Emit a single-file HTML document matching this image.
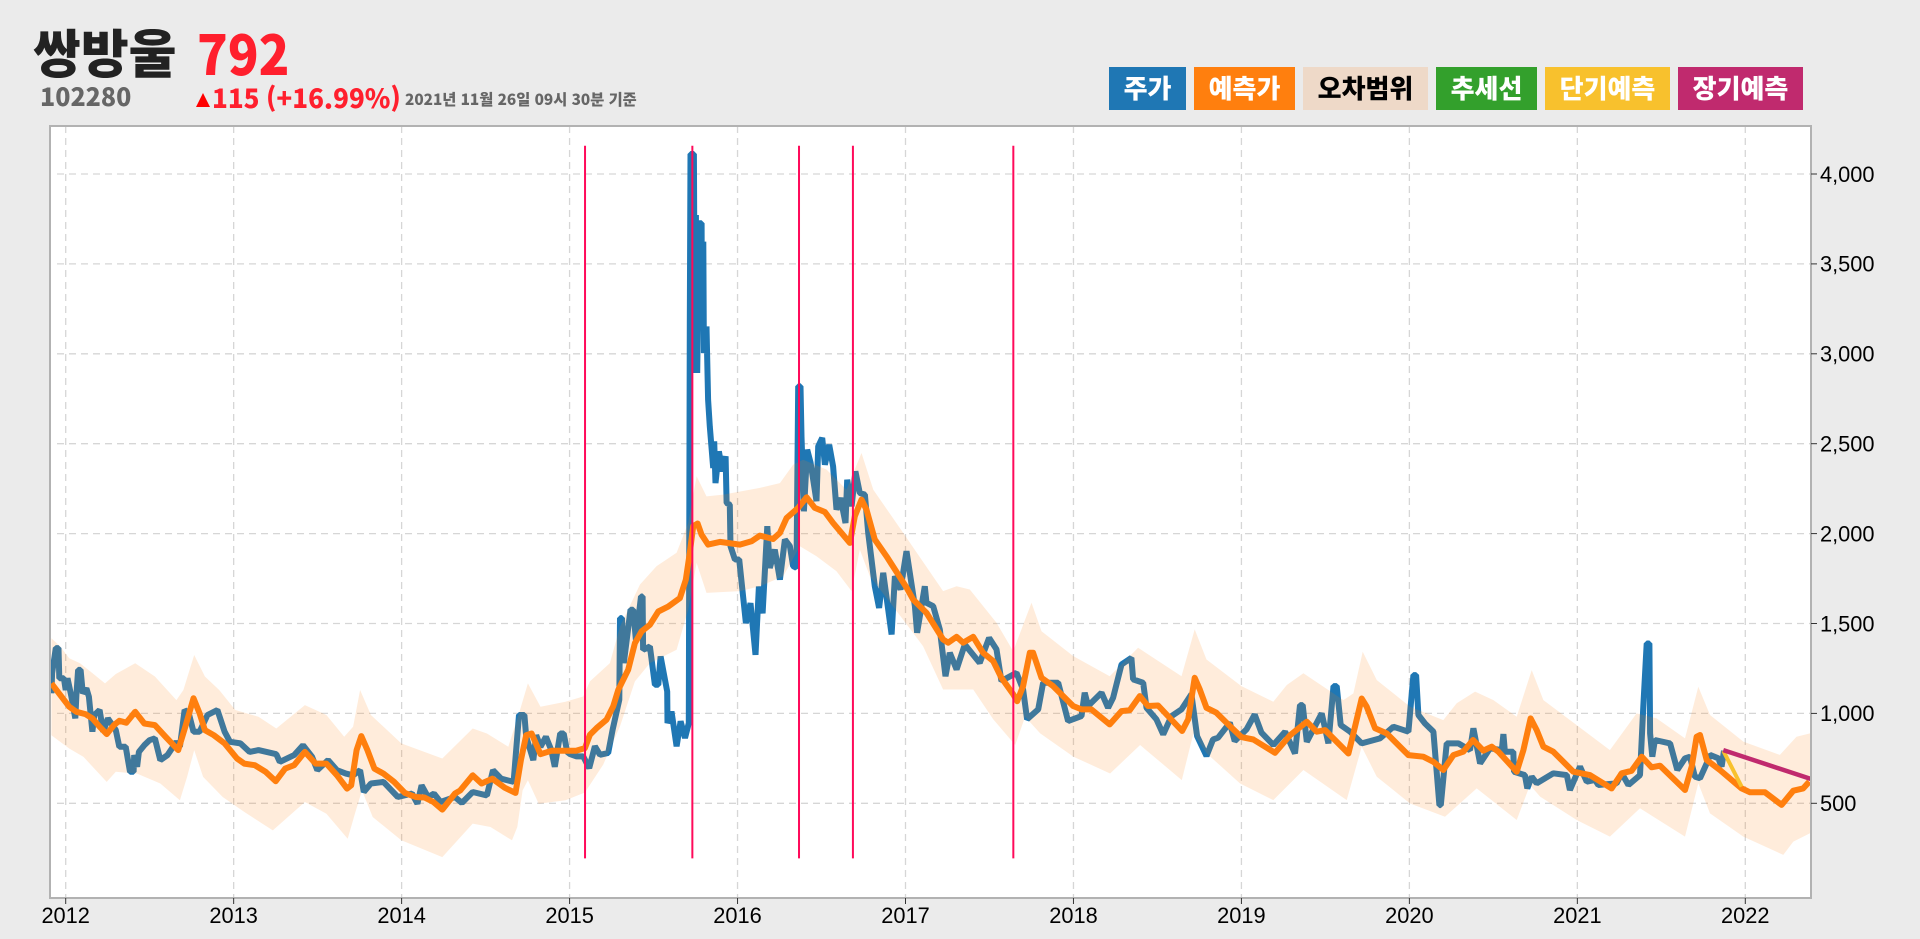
<!DOCTYPE html>
<html lang="ko">
<head>
<meta charset="utf-8">
<title>쌍방울 102280 주가 예측 차트</title>
<style>
html,body{margin:0;padding:0;background:#ebebeb;}
body{width:1920px;height:939px;position:relative;overflow:hidden;font-family:"Liberation Sans","Noto Sans CJK KR",sans-serif;}
.t{position:absolute;white-space:nowrap;font-family:"Noto Sans CJK KR","Liberation Sans",sans-serif;font-weight:900;line-height:1;transform-origin:left top;}
.chip{position:absolute;top:67px;height:43px;line-height:42px;text-align:center;font-family:"Noto Sans CJK KR","Liberation Sans",sans-serif;font-weight:900;font-size:26px;color:#fff;}
svg{position:absolute;left:0;top:0;}
</style>
</head>
<body>
<div class="t" style="left:33px;top:25px;font-size:52px;color:#222;">쌍방울</div>
<div class="t" style="left:197px;top:24px;font-size:55px;color:#ff1f2d;transform:scaleX(.92);">792</div>
<div class="t" style="left:40px;top:84px;font-size:25px;color:#666;">102280</div>
<div class="t" style="left:196px;top:93px;width:0;height:0;border-left:7.5px solid transparent;border-right:7.5px solid transparent;border-bottom:14px solid #f00;"></div>
<div class="t" style="left:212px;top:85px;font-size:26px;color:#ff1f2d;">115</div>
<div class="t" style="left:266px;top:85px;font-size:26px;color:#ff1f2d;">(+16.99%)</div>
<div class="t" style="left:405px;top:92px;font-size:15.3px;color:#666;">2021년 11월 26일 09시 30분 기준</div>

<div class="chip" style="left:1109px;width:77px;background:#1f77b4;">주가</div>
<div class="chip" style="left:1194px;width:101px;background:#ff7f0e;">예측가</div>
<div class="chip" style="left:1303px;width:125px;background:#eed9c8;color:#000;">오차범위</div>
<div class="chip" style="left:1436px;width:101px;background:#33a02c;">추세선</div>
<div class="chip" style="left:1545px;width:125px;background:#f8c12d;">단기예측</div>
<div class="chip" style="left:1678px;width:125px;background:#c02a6e;">장기예측</div>

<svg id="chart" width="1920" height="939" viewBox="0 0 1920 939" xmlns="http://www.w3.org/2000/svg"></svg>

<script>
const xTickYears = [2012,2013,2014,2015,2016,2017,2018,2019,2020,2021,2022];
const xTickLabels = ["2012","2013","2014","2015","2016","2017","2018","2019","2020","2021","2022"];
const yTickValues = [500,1000,1500,2000,2500,3000,3500,4000];
const yTickLabels = ["500","1,000","1,500","2,000","2,500","3,000","3,500","4,000"];
const eventDates = [2015.092,2015.731,2016.366,2016.687,2017.642];
const eventRange = [194,4157];

const priceDates = [
2011.915,2011.919,2011.941,2011.957,2011.962,2011.989,2012.000,2012.011,2012.032,2012.057,2012.064,2012.074,2012.089,2012.102,2012.123,2012.138,2012.159,2012.170,2012.202,2012.223,
2012.251,2012.298,2012.319,2012.357,2012.383,2012.404,2012.408,2012.425,2012.436,2012.468,2012.499,2012.531,2012.563,2012.606,2012.659,2012.680,2012.708,2012.733,2012.761,2012.797,
2012.844,2012.903,2012.946,2012.978,2013.041,2013.095,2013.148,2013.254,2013.275,2013.360,2013.413,2013.467,2013.498,2013.562,2013.615,2013.668,2013.711,2013.753,2013.775,2013.817,
2013.892,2013.977,2014.062,2014.094,2014.119,2014.157,2014.193,2014.232,2014.317,2014.359,2014.423,2014.508,2014.544,2014.593,2014.667,2014.699,2014.731,2014.742,2014.784,2014.801,
2014.827,2014.859,2014.891,2014.912,2014.944,2014.965,2014.986,2015.002,2015.042,2015.081,2015.117,2015.151,2015.181,2015.230,2015.256,2015.296,2015.300,2015.312,2015.323,2015.363,
2015.379,2015.395,2015.425,2015.435,2015.438,2015.478,2015.508,2015.528,2015.542,2015.581,2015.583,2015.607,2015.637,2015.661,2015.687,2015.710,2015.716,2015.720,2015.740,2015.746,
2015.752,2015.760,2015.772,2015.786,2015.788,2015.796,2015.800,2015.815,2015.825,2015.835,2015.855,2015.861,2015.869,2015.889,2015.909,2015.929,2015.935,2015.954,2015.958,2015.984,
2016.010,2016.050,2016.077,2016.107,2016.127,2016.149,2016.177,2016.192,2016.222,2016.252,2016.282,2016.312,2016.331,2016.351,2016.361,2016.375,2016.381,2016.395,2016.415,2016.435,
2016.470,2016.480,2016.504,2016.520,2016.546,2016.569,2016.589,2016.613,2016.643,2016.653,2016.679,2016.702,2016.728,2016.758,2016.778,2016.817,2016.843,2016.867,2016.917,2016.937,
2016.970,2017.006,2017.056,2017.069,2017.115,2017.125,2017.165,2017.204,2017.238,2017.264,2017.304,2017.353,2017.442,2017.498,2017.542,2017.571,2017.661,2017.700,2017.724,2017.790,
2017.819,2017.909,2017.968,2018.048,2018.067,2018.087,2018.167,2018.206,2018.236,2018.286,2018.345,2018.355,2018.415,2018.435,2018.494,2018.534,2018.584,2018.643,2018.702,2018.736,
2018.792,2018.831,2018.861,2018.931,2018.960,2019.030,2019.079,2019.119,2019.190,2019.260,2019.319,2019.349,2019.365,2019.389,2019.478,2019.518,2019.548,2019.567,2019.591,2019.647,
2019.716,2019.825,2019.905,2019.994,2020.024,2020.040,2020.054,2020.093,2020.143,2020.179,2020.187,2020.222,2020.292,2020.361,2020.381,2020.421,2020.480,2020.550,2020.560,2020.569,
2020.619,2020.623,2020.688,2020.702,2020.728,2020.758,2020.857,2020.937,2020.956,2021.016,2021.056,2021.105,2021.125,2021.234,2021.264,2021.304,2021.373,2021.393,2021.413,2021.429,
2021.433,2021.446,2021.462,2021.552,2021.595,2021.641,2021.671,2021.700,2021.730,2021.770,2021.790,2021.839,2021.859,2021.873
];
const priceValues = [
1112,1223,1363,1363,1195,1195,1130,1195,1102,972,1102,1242,1242,1112,1139,1093,898,991,1019,898,
972,907,814,814,675,675,768,703,786,823,851,861,740,768,842,814,1019,1000,898,898,
991,1019,898,842,833,786,796,773,730,768,823,758,684,740,684,665,656,684,563,610,
619,535,554,498,600,535,554,507,535,502,563,544,684,637,619,991,991,870,740,879,
814,870,796,703,888,888,786,774,761,761,696,817,770,780,909,1076,1530,1530,1280,1576,
1576,1409,1650,1650,1354,1372,1159,1159,1317,1122,946,1011,817,956,863,946,3170,4111,4111,2893,
3772,2893,3726,3726,3226,3624,3004,3152,2744,2596,2365,2513,2281,2457,2346,2430,2170,2161,1930,1856,
1856,1502,1613,1326,1706,1557,2041,1809,1911,1744,1967,1930,1819,1809,2819,2819,2541,2124,2467,2393,
2180,2485,2532,2383,2494,2374,2133,2198,2059,2300,2152,2346,2226,2217,2004,1707,1587,1782,1439,1763,
1689,1902,1596,1448,1707,1615,1596,1467,1207,1337,1244,1383,1281,1420,1356,1180,1226,1133,967,1022,
1170,1170,957,985,1115,1041,1115,1031,1087,1272,1309,1189,1170,1031,967,883,985,1022,1106,874,
763,855,865,948,846,911,994,893,824,898,777,1046,1046,842,1000,833,1152,1152,935,898,
833,861,926,898,1213,1213,991,944,898,490,490,833,833,796,917,722,806,796,885,787,
787,676,657,583,648,611,667,657,574,704,620,630,602,611,667,602,657,1037,1389,1389,
889,759,852,833,685,750,759,648,639,722,769,750,704,792
];

const forecastDates = [
2011.915,2011.968,2012.021,2012.064,2012.117,2012.159,2012.202,2012.244,2012.287,2012.319,2012.361,2012.414,2012.468,2012.531,2012.595,2012.670,2012.712,2012.761,2012.797,2012.829,
2012.882,2012.946,2013.020,2013.063,2013.126,2013.190,2013.250,2013.307,2013.360,2013.424,2013.488,2013.552,2013.615,2013.675,2013.700,2013.732,2013.760,2013.796,2013.838,2013.892,
2013.955,2014.019,2014.083,2014.136,2014.189,2014.242,2014.317,2014.349,2014.423,2014.476,2014.540,2014.614,2014.678,2014.710,2014.742,2014.774,2014.827,2014.891,2014.976,2015.039,
2015.091,2015.121,2015.161,2015.220,2015.260,2015.290,2015.349,2015.389,2015.429,2015.478,2015.528,2015.587,2015.657,2015.692,2015.716,2015.736,2015.762,2015.786,2015.825,2015.895,
2016.014,2016.083,2016.133,2016.212,2016.252,2016.292,2016.361,2016.411,2016.460,2016.520,2016.569,2016.669,2016.698,2016.738,2016.768,2016.817,2016.887,2017.006,2017.046,2017.125,
2017.224,2017.254,2017.304,2017.343,2017.403,2017.462,2017.522,2017.571,2017.641,2017.665,2017.700,2017.740,2017.760,2017.810,2017.879,2017.998,2018.048,2018.107,2018.216,2018.286,
2018.335,2018.395,2018.444,2018.504,2018.647,2018.683,2018.722,2018.752,2018.792,2018.851,2018.931,2019.000,2019.071,2019.200,2019.290,2019.389,2019.448,2019.498,2019.637,2019.667,
2019.716,2019.746,2019.796,2019.865,2019.994,2020.083,2020.143,2020.202,2020.262,2020.321,2020.379,2020.440,2020.490,2020.530,2020.639,2020.679,2020.722,2020.758,2020.798,2020.857,
2020.976,2021.075,2021.204,2021.264,2021.323,2021.383,2021.442,2021.492,2021.641,2021.681,2021.710,2021.730,2021.770,2021.849,2021.978,2022.028,2022.117,2022.216,2022.286,2022.345,2022.381
];
const forecastValues = [
1167,1102,1037,1009,996,972,926,885,935,959,948,1009,944,935,870,796,926,1084,1000,907,
879,833,749,721,712,675,623,693,712,786,721,721,656,582,600,796,874,796,693,665,
619,558,535,532,507,465,554,572,656,610,637,587,558,740,879,888,773,792,792,792,
807,881,918,965,1039,1131,1243,1391,1456,1493,1567,1594,1641,1743,1893,2041,2056,1994,1939,1954,
1939,1957,1989,1970,2004,2087,2143,2202,2143,2120,2059,1948,2096,2189,2133,1967,1874,1700,1633,1559,
1411,1393,1426,1393,1426,1337,1291,1198,1106,1068,1152,1337,1337,1198,1152,1041,1022,1022,939,1013,
1018,1096,1041,1044,902,967,1198,1133,1031,1004,930,868,855,781,879,954,898,907,777,889,
1083,1037,917,889,768,759,731,685,768,787,852,793,815,787,676,796,972,907,815,787,
676,657,583,667,681,759,700,709,574,704,870,880,741,685,583,561,561,491,570,583,620
];

const upperDates = [
2011.915,2011.968,2012.021,2012.085,2012.149,2012.234,2012.298,2012.414,2012.531,2012.659,2012.701,2012.765,2012.829,2012.914,2013.010,2013.148,2013.254,2013.424,2013.552,2013.658,
2013.711,2013.753,2013.817,2013.998,2014.242,2014.423,2014.508,2014.635,2014.699,2014.752,2014.827,2014.976,2015.081,2015.121,2015.240,2015.300,2015.419,2015.518,2015.637,2015.706,
2015.756,2015.815,2015.915,2016.133,2016.252,2016.331,2016.391,2016.530,2016.649,2016.738,2016.808,2017.000,2017.224,2017.304,2017.383,2017.542,2017.641,2017.750,2017.810,2017.998,
2018.216,2018.385,2018.643,2018.722,2018.792,2019.000,2019.190,2019.270,2019.369,2019.607,2019.667,2019.722,2019.806,2020.004,2020.202,2020.282,2020.391,2020.500,2020.639,2020.728,
2020.798,2020.996,2021.194,2021.353,2021.472,2021.641,2021.720,2021.790,2021.988,2022.206,2022.305,2022.385
];
const upperValues = [
1418,1372,1307,1279,1232,1167,1219,1279,1205,1074,1130,1325,1205,1130,1019,981,916,1046,991,870,
926,1130,991,833,749,916,888,814,1000,1167,1037,1065,1094,1178,1280,1483,1717,1819,1893,2059,
2319,2207,2217,2254,2281,2383,2411,2356,2244,2448,2244,1985,1680,1707,1689,1504,1346,1615,1457,1319,
1207,1365,1207,1467,1300,1152,1065,1158,1223,1074,1111,1343,1185,1037,963,1056,1121,1074,981,1241,
1074,935,796,1000,972,861,1148,991,843,769,870,889
];

const lowerDates = [
2011.915,2012.021,2012.106,2012.244,2012.298,2012.425,2012.563,2012.680,2012.723,2012.765,2012.818,2012.935,2013.063,2013.233,2013.424,2013.552,2013.679,2013.722,2013.764,2013.828,
2013.998,2014.242,2014.423,2014.529,2014.657,2014.689,2014.720,2014.752,2014.816,2014.976,2015.091,2015.200,2015.300,2015.389,2015.478,2015.637,2015.706,2015.756,2015.815,2016.014,
2016.133,2016.272,2016.371,2016.470,2016.589,2016.679,2016.728,2016.788,2017.000,2017.105,2017.224,2017.403,2017.522,2017.653,2017.712,2017.802,2018.000,2018.218,2018.397,2018.645,
2018.714,2018.794,2018.992,2019.190,2019.369,2019.627,2019.716,2019.806,2020.004,2020.212,2020.401,2020.639,2020.718,2020.778,2020.996,2021.194,2021.373,2021.641,2021.720,2021.790,
2021.988,2022.226,2022.286,2022.385
];
const lowerValues = [
879,805,758,619,675,665,610,517,647,796,647,535,452,349,507,442,303,442,572,424,
294,201,387,368,294,368,572,628,498,517,560,715,928,1178,1280,1354,1576,1837,1670,1680,
1707,1763,1930,1874,1791,1680,1911,1763,1504,1374,1133,1133,967,824,981,889,759,666,824,629,
889,777,610,518,685,518,814,648,499,425,583,407,602,537,407,315,472,315,611,444,
315,213,287,333
];

const shortTermDates = [2021.869,2021.978];
const shortTermValues = [792,593];
const longTermDates = [2021.869,2022.391];
const longTermValues = [796,635];

const plotLeft = 50, plotRight = 1811, plotTop = 126, plotBottom = 898;
const SVG_NS = 'http://www.w3.org/2000/svg';
const chart = document.getElementById('chart');

function xAxis(year) { return 65.7 + (year - 2012) * 167.96; }
function yAxis(value) { return 803.3 - (value - 500) * 0.1798; }
function pointList(dates, values) {
  return dates.map(function (d, i) { return xAxis(d).toFixed(1) + ',' + yAxis(values[i]).toFixed(1); });
}
function make(tag, attrs, parent) {
  const el = document.createElementNS(SVG_NS, tag);
  for (const k in attrs) el.setAttribute(k, attrs[k]);
  parent.appendChild(el);
  return el;
}

const background = make('rect', {x: plotLeft, y: plotTop, width: plotRight - plotLeft, height: plotBottom - plotTop, fill: '#fff'}, chart);



const defs = make('defs', {}, chart);
const clip = make('clipPath', {id: 'plot-clip'}, defs);
make('rect', {x: plotLeft, y: plotTop, width: plotRight - plotLeft, height: plotBottom - plotTop}, clip);

const gridColor = '#d6d6d6';
xTickYears.forEach(function (year) {
  const line = make('line', {x1: xAxis(year), x2: xAxis(year), y1: plotTop, y2: plotBottom, stroke: gridColor, 'stroke-width': 1.3, 'stroke-dasharray': '7 5'}, chart);
  
  
});
yTickValues.forEach(function (value) {
  const line = make('line', {x1: plotLeft + 7, x2: plotRight, y1: yAxis(value), y2: yAxis(value), stroke: gridColor, 'stroke-width': 1.3, 'stroke-dasharray': '7 5'}, chart);
  
  
});

const plot = make('g', {'clip-path': 'url(#plot-clip)'}, chart);



const priceLine = make('polyline', {points: pointList(priceDates, priceValues).join(' '), fill: 'none', stroke: '#1f77b4', 'stroke-width': 6, 'stroke-linejoin': 'bevel'}, plot);



const bandPoints = pointList(upperDates, upperValues).concat(pointList(lowerDates, lowerValues).reverse());
const band = make('polygon', {points: bandPoints.join(' '), fill: '#ff7f0e', 'fill-opacity': 0.15}, plot);



const forecastLine = make('polyline', {points: pointList(forecastDates, forecastValues).join(' '), fill: 'none', stroke: '#ff7f0e', 'stroke-width': 6, 'stroke-linejoin': 'round'}, plot);



const shortTermLine = make('polyline', {points: pointList(shortTermDates, shortTermValues).join(' '), fill: 'none', stroke: '#f8c12d', 'stroke-width': 4}, plot);



const longTermLine = make('polyline', {points: pointList(longTermDates, longTermValues).join(' '), fill: 'none', stroke: '#c02a6e', 'stroke-width': 4.5}, plot);



eventDates.forEach(function (date) {
  const line = make('line', {x1: xAxis(date), x2: xAxis(date), y1: yAxis(eventRange[1]), y2: yAxis(eventRange[0]), stroke: '#ff0a5a', 'stroke-width': 2}, chart);
  
  
});

const frame = make('path', {d: 'M' + plotLeft + ' ' + plotBottom + 'V' + plotTop + 'H' + plotRight + 'V' + plotBottom + 'Z', fill: 'none', stroke: '#b2b2b2', 'stroke-width': 2}, chart);



xTickYears.forEach(function (year, i) {
  const tick = make('line', {x1: xAxis(year), x2: xAxis(year), y1: plotBottom, y2: plotBottom + 6, stroke: '#333', 'stroke-width': 1}, chart);
  
  
  const label = make('text', {x: xAxis(year), y: 923, 'text-anchor': 'middle', 'font-size': 21.8, fill: '#000', 'font-family': '"Liberation Sans", sans-serif'}, chart);
  label.textContent = xTickLabels[i];
  
  
});
yTickValues.forEach(function (value, i) {
  const tick = make('line', {x1: plotRight, x2: plotRight + 6, y1: yAxis(value), y2: yAxis(value), stroke: '#333', 'stroke-width': 1}, chart);
  
  
  const label = make('text', {x: 1820, y: yAxis(value) + 7.8, 'font-size': 21.8, fill: '#000', 'font-family': '"Liberation Sans", sans-serif'}, chart);
  label.textContent = yTickLabels[i];
  
  
});
</script>
</body>
</html>
